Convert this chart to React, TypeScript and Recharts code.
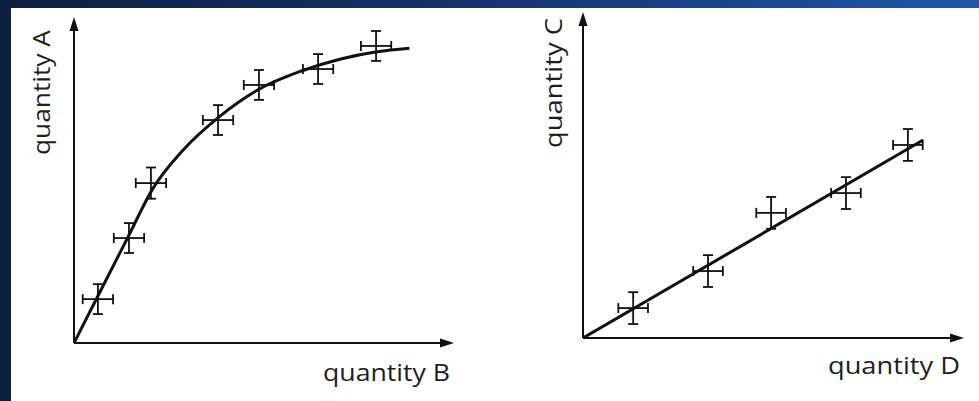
import { ComposedChart, Line, Scatter, ErrorBar, XAxis, YAxis, ReferenceDot, ReferenceLine } from "recharts";

// left panel: quantity A against quantity B (saturating curve)
const pointsB = [6.3, 14.5, 20.3, 38.0, 48.8, 64.4, 79.7];
const pointsA = [13.5, 32.3, 49.2, 68.6, 79.4, 84.3, 91.4];
const errB = [4, 4, 4, 4, 4, 4, 4];
const errA = [4.6, 4.6, 4.8, 4.6, 4.6, 4.6, 4.6];
const curveB = [0, 6.1, 14.2, 20.8, 28.5, 38.2, 48.7, 60, 70.4, 80, 88.5];
const curveA = [0, 14, 32.5, 47.5, 59, 69.5, 78, 83.7, 87.4, 89.6, 90.7];

// right panel: quantity C against quantity D (straight line)
const pointsD = [13.2, 32.9, 49.5, 69.2, 85.5];
const pointsC = [9.2, 20.6, 38.5, 44.6, 59.4];
const errD = [3.9, 3.9, 3.9, 3.9, 3.9];
const errC = [4.9, 4.9, 4.9, 4.9, 4.9];
const lineD = [0, 89.5];
const lineC = [0, 60.9];

const INK = "#111";
const TEXT = "#1e1e1e";

const arrowRight = (p: any) => (
  <path d={`M${p.cx + 1},${p.cy} L${p.cx - 13},${p.cy - 4.5} L${p.cx - 13},${p.cy + 4.5} Z`} fill={INK} />
);
const arrowUp = (p: any) => (
  <path d={`M${p.cx},${p.cy - 1} L${p.cx - 4.5},${p.cy + 13} L${p.cx + 4.5},${p.cy + 13} Z`} fill={INK} />
);

interface PanelProps {
  left: number;
  width: number;
  margin: { top: number; right: number; bottom: number; left: number };
  points: { x: number; y: number; ex: number; ey: number }[];
  curve: { x: number; y: number }[];
}

function Panel({ left, width, margin, points, curve }: PanelProps) {
  return (
    <div style={{ position: "absolute", left, top: 0 }}>
      <ComposedChart width={width} height={401} margin={margin}>
        <XAxis type="number" dataKey="x" domain={[0, 100]} allowDataOverflow hide />
        <YAxis type="number" dataKey="y" domain={[0, 100]} allowDataOverflow hide />
        <ReferenceLine
          segment={[{ x: 0, y: 0 }, { x: 98, y: 0 }]}
          stroke={INK}
          strokeWidth={2}
        />
        <ReferenceLine
          segment={[{ x: 0, y: 0 }, { x: 0, y: 98 }]}
          stroke={INK}
          strokeWidth={2}
        />
        <ReferenceDot x={100} y={0} shape={arrowRight} />
        <ReferenceDot x={0} y={100} shape={arrowUp} />
        <Line
          data={curve}
          dataKey="y"
          type="monotone"
          stroke={INK}
          strokeWidth={3}
          dot={false}
          isAnimationActive={false}
        />
        <Scatter data={points} dataKey="y" shape={() => <g />} isAnimationActive={false}>
          <ErrorBar dataKey="ex" direction="x" width={5} stroke={INK} strokeWidth={1.8} isAnimationActive={false} />
          <ErrorBar dataKey="ey" direction="y" width={5} stroke={INK} strokeWidth={1.8} isAnimationActive={false} />
        </Scatter>
      </ComposedChart>
    </div>
  );
}

export default function App() {
  const leftPoints = pointsB.map((x, i) => ({ x, y: pointsA[i], ex: errB[i], ey: errA[i] }));
  const leftCurve = curveB.map((x, i) => ({ x, y: curveA[i] }));
  const rightPoints = pointsD.map((x, i) => ({ x, y: pointsC[i], ex: errD[i], ey: errC[i] }));
  const rightCurve = lineD.map((x, i) => ({ x, y: lineC[i] }));

  return (
    <div
      style={{
        position: "absolute",
        left: 0,
        top: 0,
        width: 979,
        height: 401,
        overflow: "hidden",
        background: "linear-gradient(to right, #0d1f3f 0%, #13326a 45%, #1f56aa 100%)",
      }}
    >
      <div style={{ position: "absolute", left: 11, top: 8, width: 968, height: 393, background: "#fff" }} />
      <Panel
        left={0}
        width={490}
        margin={{ top: 18, right: 37, bottom: 58, left: 74 }}
        points={leftPoints}
        curve={leftCurve}
      />
      <Panel
        left={490}
        width={489}
        margin={{ top: 13, right: 16, bottom: 63, left: 93 }}
        points={rightPoints}
        curve={rightCurve}
      />
      <svg
        width={979}
        height={401}
        style={{ position: "absolute", left: 0, top: 0, pointerEvents: "none" }}
        fontFamily="'Open Sans', sans-serif"
        fontSize={23}
        fill={TEXT}
      >
        <text x={323} y={381} textLength={127} lengthAdjust="spacingAndGlyphs">
          quantity B
        </text>
        <text x={828} y={374} textLength={132} lengthAdjust="spacingAndGlyphs">
          quantity D
        </text>
        <text
          transform="translate(50,155) rotate(-90)"
          textLength={125}
          lengthAdjust="spacingAndGlyphs"
        >
          quantity A
        </text>
        <text
          transform="translate(562,148) rotate(-90)"
          textLength={130}
          lengthAdjust="spacingAndGlyphs"
        >
          quantity C
        </text>
      </svg>
    </div>
  );
}
